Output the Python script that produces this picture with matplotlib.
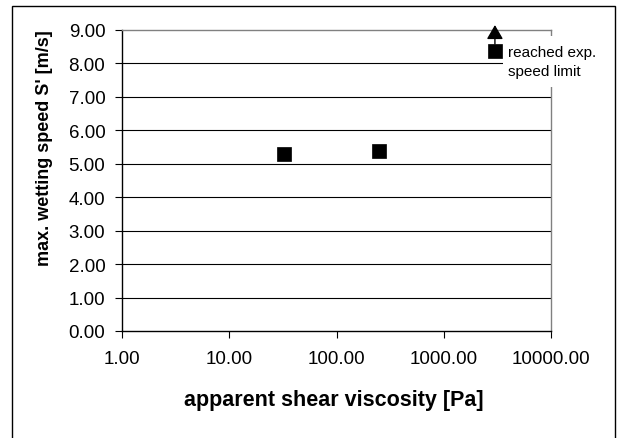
import matplotlib
matplotlib.use("Agg")
import matplotlib.pyplot as plt
from matplotlib.patches import Rectangle
from matplotlib.transforms import offset_copy
from matplotlib.ticker import FixedLocator, FuncFormatter, NullLocator

plt.rcParams['font.family'] = ['Liberation Sans', 'DejaVu Sans']

# data
viscosity = [32.4, 249.0, 3000.0]          # apparent shear viscosity [Pa]
speed = [5.29, 5.38, 8.37]                 # max. wetting speed S' [m/s]
x_ticks = [1, 10, 100, 1000, 10000]
y_ticks = [0, 1, 2, 3, 4, 5, 6, 7, 8, 9]
xlabel = "apparent shear viscosity [Pa]"
ylabel = "max. wetting speed S' [m/s]"
note = "reached exp.\nspeed limit"

W, H = 621, 439
fig = plt.figure(figsize=(W / 100, H / 100), dpi=100)
fig.patch.set_facecolor('white')

L, R, T, B = 122, 551, 31, 332
ax = fig.add_axes([L / W, 1 - B / H, (R - L) / W, (B - T) / H])
ax.set_xscale('log')
ax.set_xlim(x_ticks[0], x_ticks[-1])
ax.set_ylim(y_ticks[0], y_ticks[-1])

ax.xaxis.set_major_locator(FixedLocator(x_ticks))
ax.xaxis.set_minor_locator(NullLocator())
ax.xaxis.set_major_formatter(FuncFormatter(lambda v, p: f"{v:.2f}"))
ax.yaxis.set_major_locator(FixedLocator(y_ticks))
ax.yaxis.set_major_formatter(FuncFormatter(lambda v, p: f"{v:.2f}"))

ax.tick_params(axis='both', direction='out', length=5, width=0.8, labelsize=13.5, colors='black')
ax.tick_params(axis='x', pad=9)
ax.tick_params(axis='y', pad=7)

for gy in y_ticks[1:-1]:
    ax.axhline(gy, color='black', lw=0.8, zorder=1)

for s in ['left', 'bottom']:
    ax.spines[s].set_color('black')
    ax.spines[s].set_linewidth(1.0)
for s in ['top', 'right']:
    ax.spines[s].set_color('#808080')
    ax.spines[s].set_linewidth(1.0)

ax.plot(viscosity, speed, linestyle='none', marker='s', markersize=9.6,
        color='black', mew=0.5, zorder=5, clip_on=False)

# arrow above the last point (reached limit)
tr_head = offset_copy(ax.transData, fig=fig, x=0, y=26, units='dots')
tr_tail = offset_copy(ax.transData, fig=fig, x=0, y=7, units='dots')
ax.annotate('', xy=(viscosity[-1], speed[-1]), xycoords=tr_head,
            xytext=(viscosity[-1], speed[-1]), textcoords=tr_tail,
            arrowprops=dict(arrowstyle='-|>,head_length=0.86,head_width=0.5',
                            mutation_scale=10, shrinkA=0, shrinkB=0,
                            lw=1.0, color='black'),
            annotation_clip=False, zorder=6)

# note with white background box
fig.patches.append(Rectangle((503 / W, 1 - 88 / H), 100 / W, 51 / H,
                             transform=fig.transFigure, facecolor='white',
                             edgecolor='none', zorder=3))
ax.set_zorder(1)
fig.text(508 / W, 1 - 62.5 / H, note, fontsize=11, ha='left', va='center',
         linespacing=1.45, zorder=10)

fig.text(45 / W, 1 - 148.5 / H, ylabel, rotation=90, fontsize=13, fontweight='bold',
         ha='center', va='center')
fig.text(334 / W, 1 - 401 / H, xlabel, fontsize=15.5, fontweight='bold',
         ha='center', va='center')

# outer chart border
fig.patches.append(Rectangle((12 / W, -0.02), 603 / W, 1 - 7 / H + 0.02,
                             transform=fig.transFigure, facecolor='none',
                             edgecolor='black', lw=1.0, zorder=0))

fig.savefig('out.png', dpi=100, facecolor='white')
